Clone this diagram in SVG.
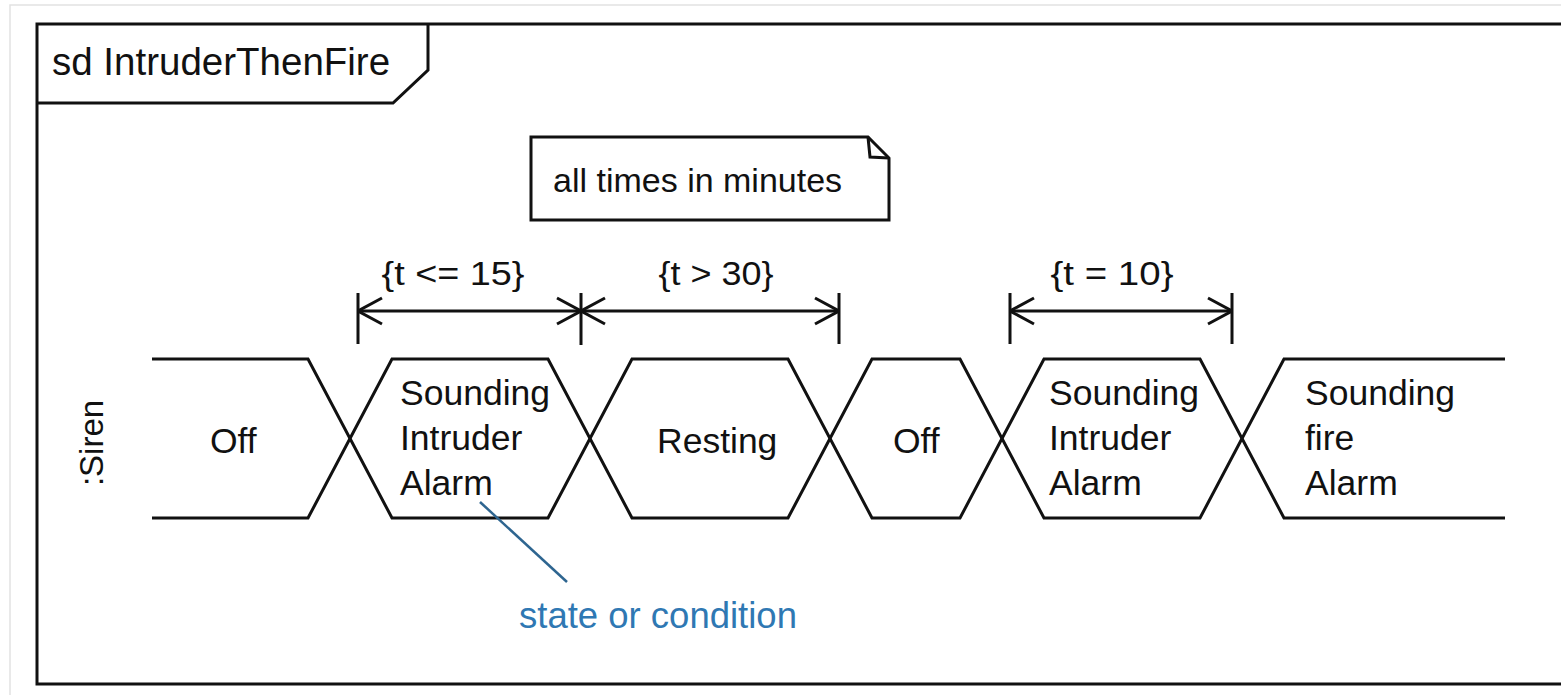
<svg xmlns="http://www.w3.org/2000/svg" width="1561" height="695" viewBox="0 0 1561 695">
  <style>
    .ln { fill: none; stroke: #111; stroke-width: 3; stroke-linejoin: miter; }
    .st { fill: #fff; stroke: #111; stroke-width: 3; }
    .tx { font-family: "Liberation Sans", Arial, sans-serif; fill: #111; }
    .state { font-size: 35.5px; }
    .label { font-size: 34px; text-anchor: middle; }
    .dim { fill: none; stroke: #111; stroke-width: 3; }
    .note-link { stroke: #2e6590; stroke-width: 2.5; fill: none; }
    .note-text { font-family: "Liberation Sans", Arial, sans-serif; font-size: 36.5px; fill: #2f78b3; }
  </style>
  <defs>
    <marker id="open-arrow" viewBox="0 0 26 30" refX="25" refY="15" markerWidth="26" markerHeight="30" markerUnits="userSpaceOnUse" orient="auto-start-reverse">
      <path d="M1,2 L25,15 L1,28" fill="none" stroke="#111" stroke-width="3"/>
    </marker>
  </defs>

  <rect width="1561" height="695" fill="#fff"/>
  <!-- page edge -->
  <path d="M1561,5 H10 V695" fill="none" stroke="#e2e2e2" stroke-width="1.5"/>

  <!-- frame -->
  <g id="frame">
    <path class="ln" d="M1561,24 H37 V684 H1561"/>
    <path class="ln" d="M37,103 H393 L428,70 V24"/>
    <text class="tx" x="52" y="75" font-size="38.5">sd IntruderThenFire</text>
  </g>

  <!-- comment note -->
  <g id="note-times">
    <path class="st" d="M531,137 H868 L889,158 V220 H531 Z"/>
    <path class="ln" d="M868,137 L870,157 L889,158"/>
    <text class="tx" x="553" y="192" font-size="34">all times in minutes</text>
  </g>

  <!-- lifeline name -->
  <g id="lifeline-siren">
    <text class="tx" transform="translate(103,443) rotate(-90)" font-size="33" text-anchor="middle">:Siren</text>
  </g>

  <!-- state timeline -->
  <g id="state-off-1">
    <path class="ln" d="M152,359 H308 L350,438.5 L308,518 H152"/>
    <text class="tx state" x="210" y="453">Off</text>
  </g>
  <g id="state-intruder-1">
    <polygon class="ln" points="350,438.5 392,359 548,359 590,438.5 548,518 392,518"/>
    <text class="tx state" x="400" y="405">Sounding</text>
    <text class="tx state" x="400" y="450">Intruder</text>
    <text class="tx state" x="400" y="495">Alarm</text>
  </g>
  <g id="state-resting">
    <polygon class="ln" points="590,438.5 632,359 788,359 830,438.5 788,518 632,518"/>
    <text class="tx state" x="657" y="453">Resting</text>
  </g>
  <g id="state-off-2">
    <polygon class="ln" points="830,438.5 872,359 960,359 1002,438.5 960,518 872,518"/>
    <text class="tx state" x="893" y="453">Off</text>
  </g>
  <g id="state-intruder-2">
    <polygon class="ln" points="1002,438.5 1044,359 1200,359 1242,438.5 1200,518 1044,518"/>
    <text class="tx state" x="1049" y="405">Sounding</text>
    <text class="tx state" x="1049" y="450">Intruder</text>
    <text class="tx state" x="1049" y="495">Alarm</text>
  </g>
  <g id="state-fire">
    <path class="ln" d="M1505,359 H1284 L1242,438.5 L1284,518 H1505"/>
    <text class="tx state" x="1305" y="405">Sounding</text>
    <text class="tx state" x="1305" y="450">fire</text>
    <text class="tx state" x="1305" y="495">Alarm</text>
  </g>

  <!-- duration constraints -->
  <g id="connectors">
    <path class="dim" d="M358,293 V344 M581,293 V345 M839,293 V344 M1010,293 V344 M1232,293 V344"/>
    <line class="dim" x1="358" y1="311" x2="581" y2="311" marker-start="url(#open-arrow)" marker-end="url(#open-arrow)"/>
    <line class="dim" x1="581" y1="311" x2="839" y2="311" marker-start="url(#open-arrow)" marker-end="url(#open-arrow)"/>
    <line class="dim" x1="1010" y1="311" x2="1232" y2="311" marker-start="url(#open-arrow)" marker-end="url(#open-arrow)"/>
    <line class="note-link" x1="480" y1="502" x2="567" y2="582"/>
  </g>
  <g id="constraint-labels">
    <text class="tx label" x="453" y="285" textLength="143" lengthAdjust="spacingAndGlyphs">{t &lt;= 15}</text>
    <text class="tx label" x="716" y="285" textLength="115" lengthAdjust="spacingAndGlyphs">{t &gt; 30}</text>
    <text class="tx label" x="1112" y="285" textLength="123" lengthAdjust="spacingAndGlyphs">{t = 10}</text>
  </g>

  <g id="annotation">
    <text class="note-text" x="519" y="628">state or condition</text>
  </g>
</svg>
